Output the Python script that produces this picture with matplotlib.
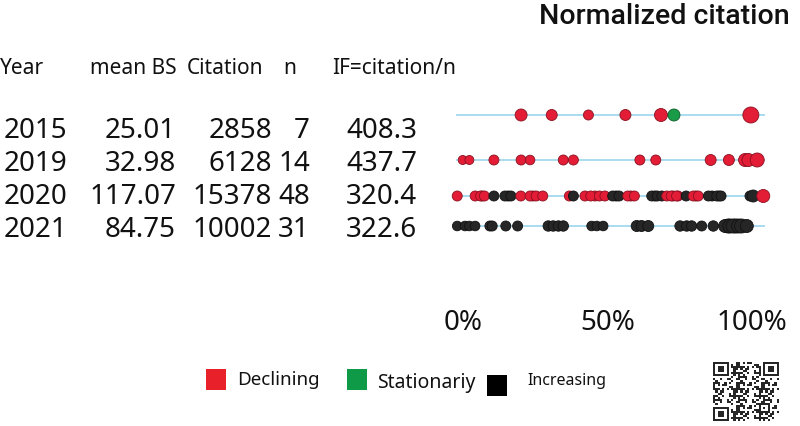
import numpy as np
import matplotlib
matplotlib.use("Agg")
import matplotlib.pyplot as plt
import matplotlib.transforms as mtransforms

plt.rcParams['font.family'] = ['Noto Sans', 'DejaVu Sans']

# ---------------- data ----------------
years = ["2015", "2019", "2020", "2021"]
mean_bs = ["25.01", "32.98", "117.07", "84.75"]
citation = ["2858", "6128", "15378", "10002"]
n_papers = ["7", "14", "48", "31"]
impact = ["408.3", "437.7", "320.4", "322.6"]

headers = ["Year", "mean BS", "Citation", "n", "IF=citation/n"]
tick_values = [0, 50, 100]
tick_labels = ["0%", "50%", "100%"]

# normalized citation (%) per paper, status: D=Declining, S=Stationariy, I=Increasing
pos_2015 = [20.1, 30.7, 43.4, 56.2, 68.5, 73.0, 99.6]
st_2015 = ["D", "D", "D", "D", "D", "S", "D"]
rad_2015 = [6.0, 5.5, 5.0, 5.5, 6.5, 6.0, 8.0]

pos_2019 = [-0.1, 2.2, 10.7, 20.1, 23.2, 34.7, 38.2, 61.2, 66.7, 85.7, 92.0, 97.6, 98.8, 101.8]
st_2019 = ["D"] * 14
rad_2019 = [4.5, 4.5, 5.0, 5.0, 4.8, 5.0, 5.0, 5.0, 5.0, 5.5, 5.5, 6.5, 6.5, 7.0]

pos_2020 = [6.6, 15.6, 24.2, 45.7, 53.0, 58.1, 66.4, 72.7, 74.4, 80.6, 86.2, 88.6, 99.3,
            -2.0, 4.2, 6.1, 7.4, 10.7, 14.5, 16.6, 20.0, 23.2, 25.3, 27.6, 36.8, 38.2,
            42.2, 44.2, 47.2, 49.1, 51.8, 54.0, 57.0, 59.3, 65.3, 67.2, 68.8, 70.5, 72.0,
            73.9, 77.2, 79.7, 81.4, 84.9, 87.8, 89.3, 100.4, 103.9]
st_2020 = ["D", "I", "D", "D", "I", "D", "I", "D", "D", "D", "I", "I", "I",
           "D", "D", "D", "D", "I", "I", "I", "D", "D", "D", "D", "D", "I",
           "D", "D", "D", "D", "I", "I", "D", "D", "I", "I", "I", "D", "D",
           "D", "I", "D", "D", "I", "I", "I", "I", "D"]
rad_2020 = [5.0] * 46 + [6.0, 6.5]

pos_2021 = [91.7, 94.3,
            -2.0, 0.7, 2.2, 4.2, 9.3, 10.1, 14.8, 18.9, 29.5, 31.2, 33.0, 34.7, 44.5,
            46.3, 48.5, 60.1, 61.8, 64.1, 75.1, 77.4, 79.1, 82.6, 86.6, 90.7, 92.4,
            93.5, 95.3, 96.4, 98.2]
st_2021 = ["I"] * 31
rad_2021 = [7.0, 7.0,
            4.8, 4.8, 4.8, 4.8, 5.0, 5.0, 5.0, 5.0, 5.2, 5.2, 5.2, 5.2, 4.8,
            4.8, 4.8, 5.5, 5.5, 5.5, 5.2, 5.2, 5.2, 5.0, 5.2, 6.5, 7.0,
            7.0, 7.0, 7.0, 6.5]

legend_labels = ["Declining", "Stationariy", "Increasing"]

# ---------------- styles ----------------
colors = {"D": "#e31d36", "S": "#1a9b48", "I": "#262626"}
edges = {"D": "#8a1020", "S": "#0c5a28", "I": "#111111"}
line_color = "#a9dcef"

W, H = 800, 426
fig = plt.figure(figsize=(8, 4.26), dpi=100)
fig.patch.set_facecolor("white")


def fx(px):
    return px / W


def fy(py):
    return 1 - py / H


# title
fig.text(fx(790), fy(17), "Normalized citation", ha="right", va="center",
         fontsize=20.5, fontweight="medium", family=["Roboto", "DejaVu Sans"],
         color="#111111")

# headers
hdr_x = [0, 90, 187, 283, 332]
for x, h in zip(hdr_x, headers):
    fig.text(fx(x), fy(68), h, ha="left", va="center", fontsize=15, color="#111111")

# table rows
row_text_y = [131, 164, 197, 230]
col_right = [None, 176, 272, 310, 417]
for i in range(len(years)):
    y = fy(row_text_y[i])
    fig.text(fx(4), y, years[i], ha="left", va="center", fontsize=20, color="#111111")
    for xr, val in zip(col_right[1:], [mean_bs[i], citation[i], n_papers[i], impact[i]]):
        fig.text(fx(xr), y, val, ha="right", va="center", fontsize=20, color="#111111")

# dot strip axes
x_left_px, x_right_px = 440, 780
zero_px, hundred_px = 463, 752
scale = (hundred_px - zero_px) / 100.0
ax = fig.add_axes([fx(x_left_px), fy(250), (x_right_px - x_left_px) / W, (250 - 90) / H])
ax.set_xlim((x_left_px - zero_px) / scale, (x_right_px - zero_px) / scale)
ax.set_ylim(250, 90)
ax.axis("off")

row_y = [115, 160, 196, 226]
rows = [(pos_2015, st_2015, rad_2015), (pos_2019, st_2019, rad_2019),
        (pos_2020, st_2020, rad_2020), (pos_2021, st_2021, rad_2021)]
for yy, (pos, st, rad) in zip(row_y, rows):
    ax.plot([-2.5, 104.5], [yy, yy], color=line_color, lw=1.4, zorder=1,
            solid_capstyle="butt")
    sizes = [(2 * r * 0.72) ** 2 for r in rad]
    ax.scatter(pos, [yy] * len(pos), s=sizes,
               c=[colors[s] for s in st], edgecolors=[edges[s] for s in st],
               linewidths=0.6, zorder=3)

# tick labels
trans = mtransforms.blended_transform_factory(ax.transData, fig.transFigure)
for v, lab in zip(tick_values, tick_labels):
    ax.text(v, fy(323), lab, transform=trans, ha="center", va="center",
            fontsize=20, color="#111111")

# legend
leg_sq = [(206, 369, "D"), (347, 369, "S"), (487, 375, "I")]
leg_txt = [(237, 380, 13.5), (377, 383, 14), (527, 381, 11.5)]
sq_colors = {"D": "#e8202a", "S": "#0f9a48", "I": "#000000"}
for (sx, sy, k), (tx, ty, fs), lab in zip(leg_sq, leg_txt, legend_labels):
    fig.patches.append(plt.Rectangle((fx(sx), fy(sy + 21)), 20 / W, 21 / H,
                                     transform=fig.transFigure, facecolor=sq_colors[k],
                                     edgecolor="none"))
    fig.text(fx(tx), fy(ty), lab, ha="left", va="center", fontsize=fs, color="#111111")

# QR-like code (decorative)
N = 29
ii, jj = np.meshgrid(np.arange(N), np.arange(N), indexing="ij")
qr = (((ii * ii * 3 + jj * jj * 5 + ii * jj * 7 + ii + 2 * jj) % 11) < 5).astype(float)


def finder(r, c):
    qr[max(r - 1, 0):min(r + 8, N), max(c - 1, 0):min(c + 8, N)] = 0
    qr[r:r + 7, c:c + 7] = 1
    qr[r + 1:r + 6, c + 1:c + 6] = 0
    qr[r + 2:r + 5, c + 2:c + 5] = 1


finder(0, 0)
finder(0, N - 7)
finder(N - 7, 0)
qr[N - 9:N - 4, N - 9:N - 4] = 1
qr[N - 8:N - 5, N - 8:N - 5] = 0
qr[N - 7, N - 7] = 1
qax = fig.add_axes([fx(713), fy(421), 66 / W, 59 / H])
qax.imshow(qr, cmap="Greys", interpolation="nearest", aspect="auto", vmin=0, vmax=1.15)
qax.axis("off")

fig.savefig("out.png", dpi=100, facecolor="white")
